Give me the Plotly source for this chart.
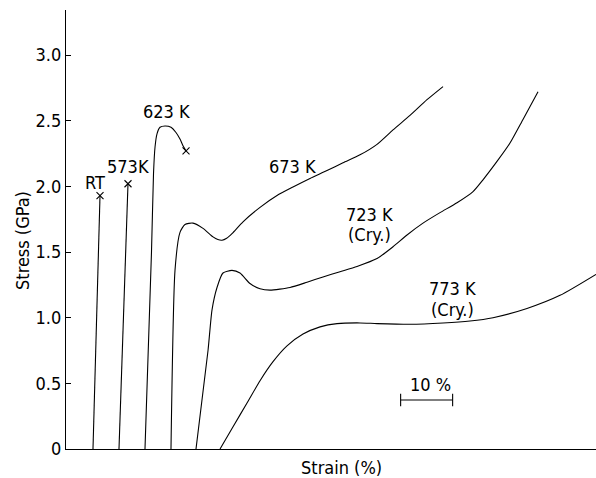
import plotly.graph_objects as go

# ---- data (strain in %, arbitrary offsets as in the figure; stress in GPa) ----
rt_strain = [5.19, 6.54]
rt_stress = [0.0, 1.93]

k573_strain = [10.19, 11.92]
k573_stress = [0.0, 2.02]

k623_strain = [15.19, 16.44, 16.83, 17.12, 17.5, 18.08, 19.04, 20.19, 21.15, 21.92, 22.5, 23.08]
k623_stress = [0.0, 1.50, 2.10, 2.30, 2.40, 2.45, 2.46, 2.45, 2.41, 2.36, 2.31, 2.27]

k673_strain = [20.19, 20.96, 21.92, 22.88, 24.42, 26.35, 28.27, 29.2, 30.0, 30.9, 31.92, 34.04,
               37.31, 40.58, 43.65, 46.92, 50.19, 53.27, 56.54, 59.81, 62.88, 66.15, 69.42, 72.5]
k673_stress = [0.0, 1.36, 1.65, 1.71, 1.72, 1.68, 1.615, 1.595, 1.59, 1.605, 1.64, 1.73,
               1.84, 1.93, 1.995, 2.06, 2.12, 2.18, 2.24, 2.32, 2.43, 2.54, 2.66, 2.76]

k723_strain = [25.0, 27.31, 28.08, 29.04, 30.19, 31.92, 33.46, 35.38, 37.31, 39.23, 43.08,
               46.35, 49.42, 52.69, 55.96, 59.81, 62.88, 65.58, 68.65, 71.92, 75.19, 78.27,
               80.19, 82.88, 85.38, 87.88, 90.77]
k723_stress = [0.0, 0.75, 1.06, 1.23, 1.34, 1.36, 1.34, 1.26, 1.22, 1.21, 1.23,
               1.27, 1.31, 1.35, 1.39, 1.45, 1.54, 1.63, 1.72, 1.80, 1.875, 1.96,
               2.05, 2.19, 2.33, 2.51, 2.72]

k773_strain = [29.62, 32.12, 34.81, 37.31, 39.81, 42.5, 45.58, 48.85, 52.12, 56.54, 59.81,
               66.15, 72.5, 77.69, 82.12, 88.65, 95.0, 101.92]
k773_stress = [0.0, 0.17, 0.35, 0.52, 0.665, 0.785, 0.875, 0.93, 0.955, 0.96, 0.955,
               0.95, 0.96, 0.975, 1.00, 1.07, 1.17, 1.33]

# fracture points (x markers)
frac_strain = [6.54, 11.92, 23.08]
frac_stress = [1.93, 2.02, 2.27]

y_tick_vals = [0, 0.5, 1.0, 1.5, 2.0, 2.5, 3.0]
y_tick_text = ["0", "0.5", "1.0", "1.5", "2.0", "2.5", "3.0"]

scale_bar_length = 10.0  # % strain

FONT = "DejaVu Sans Condensed, DejaVu Sans, sans-serif"
LINE = dict(color="black", width=1.1, shape="spline", smoothing=0.6)

fig = go.Figure()
for xs, ys in [(rt_strain, rt_stress), (k573_strain, k573_stress), (k623_strain, k623_stress),
               (k673_strain, k673_stress), (k723_strain, k723_stress), (k773_strain, k773_stress)]:
    fig.add_trace(go.Scatter(x=xs, y=ys, mode="lines", line=LINE, hoverinfo="skip",
                             showlegend=False))

fig.add_trace(go.Scatter(x=frac_strain, y=frac_stress, mode="markers",
                         marker=dict(symbol="x-thin", size=7, line=dict(color="black", width=1.1)),
                         showlegend=False, hoverinfo="skip"))

# scale bar (10 % strain)
bar_x0 = 64.35
fig.add_trace(go.Scatter(x=[bar_x0, bar_x0 + scale_bar_length], y=[0.373, 0.373],
                         mode="lines+markers",
                         line=dict(color="black", width=1.1),
                         marker=dict(symbol="line-ns", size=9, line=dict(color="black", width=1.1)),
                         showlegend=False, hoverinfo="skip"))

labels = [
    ("RT", 5.6, 2.03),
    ("573K", 11.9, 2.15),
    ("623 K", 19.4, 2.57),
    ("673 K", 43.5, 2.15),
    ("723 K", 58.3, 1.785),
    ("(Cry.)", 58.3, 1.63),
    ("773 K", 74.4, 1.225),
    ("(Cry.)", 74.4, 1.065),
    ("10 %", 70.0, 0.49),
]
for t, x, y in labels:
    fig.add_annotation(x=x, y=y, text=t, showarrow=False, xanchor="center", yanchor="middle",
                       font=dict(family=FONT, size=18, color="black"))

fig.add_annotation(xref="paper", yref="paper", x=(341 - 66) / 530, y=(449 - 467) / 439,
                   text="Strain (%)", showarrow=False, xanchor="center", yanchor="middle",
                   font=dict(family=FONT, size=18, color="black"))
fig.add_annotation(xref="paper", yref="paper", x=(22 - 66) / 530, y=(449 - 241) / 439,
                   text="Stress (GPa)", showarrow=False, textangle=-90,
                   xanchor="center", yanchor="middle",
                   font=dict(family=FONT, size=18, color="black"))

fig.update_layout(
    width=596, height=478,
    margin=dict(l=66, r=0, t=10, b=29),
    paper_bgcolor="white", plot_bgcolor="white",
    font=dict(family=FONT, size=18, color="black"),
    xaxis=dict(range=[0, 101.92], showgrid=False, zeroline=False, showline=True,
               linecolor="black", linewidth=1.2, showticklabels=False, ticks=""),
    yaxis=dict(range=[0, 3.343], showgrid=False, zeroline=False, showline=True,
               linecolor="black", linewidth=1.2, tickvals=y_tick_vals, ticktext=y_tick_text,
               ticks="inside", ticklen=5, tickcolor="black", tickwidth=1.1,
               tickfont=dict(family=FONT, size=18, color="black")),
)

fig.write_html("out.html")
